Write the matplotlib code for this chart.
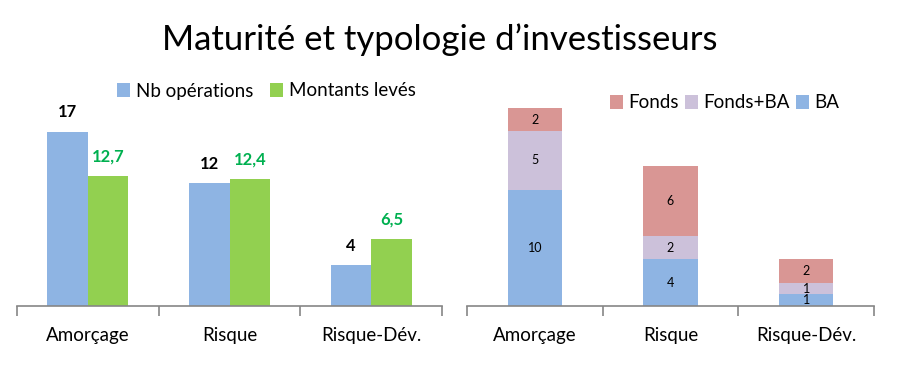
import matplotlib
matplotlib.use("Agg")
import matplotlib.pyplot as plt
import numpy as np

plt.rcParams['font.family'] = ['Lato', 'DejaVu Sans']

categories = ["Amorçage", "Risque", "Risque-Dév."]
nb_operations = [17, 12, 4]
montants_leves = [12.7, 12.4, 6.5]
montants_labels = ["12,7", "12,4", "6,5"]
ba = [10, 4, 1]
fonds_ba = [5, 2, 1]
fonds = [2, 6, 2]

C_BLUE = "#8EB4E3"
C_GREEN = "#92D050"
C_RED = "#D99694"
C_LAV = "#CCC1DA"
C_GTXT = "#00B050"
C_AXIS = "#868686"

W, H = 900, 383
fig = plt.figure(figsize=(9, 3.83), dpi=100)

fig.text(440 / W, 1 - 40 / H, "Maturité et typologie d’investisseurs",
         ha="center", va="center", fontsize=25)

def style_axis(ax):
    for s in ["top", "left", "right"]:
        ax.spines[s].set_visible(False)
    ax.spines["bottom"].set_color(C_AXIS)
    ax.spines["bottom"].set_linewidth(1.2)
    ax.set_yticks([])
    ax.set_xlim(-0.5, 2.5)
    ax.set_xticks([-0.5, 0.5, 1.5, 2.5])
    ax.set_xticklabels([])
    ax.tick_params(axis="x", which="major", direction="out", length=7,
                   color=C_AXIS, width=1.2)
    ax.set_xticks(range(len(categories)), minor=True)
    ax.set_xticklabels(categories, minor=True, fontsize=13.5)
    ax.tick_params(axis="x", which="minor", length=0, pad=15)
    ax.patch.set_alpha(0)

# Left chart
axL = fig.add_axes([17 / W, 77 / H, (442 - 17) / W, 205 / H])
x = np.arange(len(categories))
bw = 0.286
b1 = axL.bar(x - bw / 2, nb_operations, bw, color=C_BLUE, label="Nb opérations")
b2 = axL.bar(x + bw / 2, montants_leves, bw, color=C_GREEN, label="Montants levés")
axL.set_ylim(0, 20)
style_axis(axL)
for xi, v in zip(x, nb_operations):
    axL.annotate(str(v), (xi - bw / 2, v), xytext=(0, 14), textcoords="offset points",
                 ha="center", va="center", fontsize=12, fontweight="bold", color="black")
for xi, v, t in zip(x, montants_leves, montants_labels):
    axL.annotate(t, (xi + bw / 2, v), xytext=(0, 14), textcoords="offset points",
                 ha="center", va="center", fontsize=12, fontweight="bold", color=C_GTXT)
axL.legend(loc="center left", bbox_to_anchor=(117 / W, 1 - 91 / H),
           bbox_transform=fig.transFigure, ncol=2, frameon=False, fontsize=13.5,
           handlelength=0.7, handleheight=0.7, handletextpad=0.3, columnspacing=0.9,
           borderpad=0, borderaxespad=0)

# Right chart
axR = fig.add_axes([467 / W, 77 / H, (874 - 467) / W, 18 * 11.65 / H])
bw2 = 0.4
r1 = axR.bar(x, ba, bw2, color=C_BLUE, label="BA")
r2 = axR.bar(x, fonds_ba, bw2, bottom=ba, color=C_LAV, label="Fonds+BA")
bottom3 = [a + b for a, b in zip(ba, fonds_ba)]
r3 = axR.bar(x, fonds, bw2, bottom=bottom3, color=C_RED, label="Fonds")
axR.set_ylim(0, 18)
style_axis(axR)
for bars, vals, bots in [(r1, ba, [0, 0, 0]), (r2, fonds_ba, ba), (r3, fonds, bottom3)]:
    for xi, v, b in zip(x, vals, bots):
        axR.text(xi, b + v / 2, str(v), ha="center", va="center", fontsize=9, color="black")
hR, lR = axR.get_legend_handles_labels()
axR.legend(hR[::-1], lR[::-1], loc="center left", bbox_to_anchor=(610 / W, 1 - 103 / H),
           bbox_transform=fig.transFigure, ncol=3, frameon=False, fontsize=13.5,
           handlelength=0.7, handleheight=0.7, handletextpad=0.3, columnspacing=0.3,
           borderpad=0, borderaxespad=0)

fig.savefig("out.png", dpi=100)
